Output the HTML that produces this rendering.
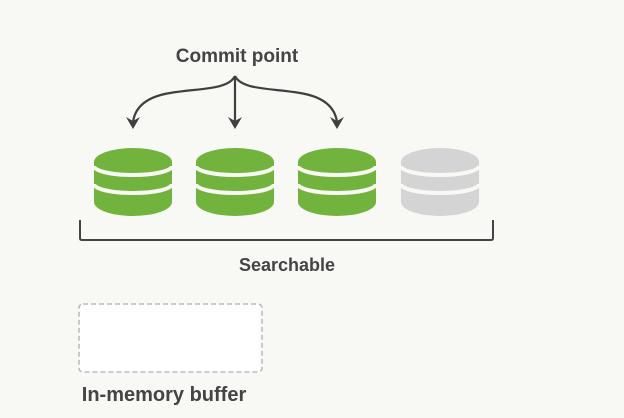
<!DOCTYPE html>
<html><head><style>
html,body{margin:0;padding:0;background:#f8f9f5;}
svg{display:block}
text{font-family:"Liberation Sans",sans-serif;font-weight:bold;fill:#444;}
</style></head><body>
<svg width="624" height="418" viewBox="0 0 624 418">
<rect width="624" height="418" fill="#f8f9f5"/>
<text x="237" y="62" font-size="19" text-anchor="middle">Commit point</text>
<g stroke="#3f3f3f" stroke-width="2.2" fill="none">
<path d="M235,76 C228,90 200,88 170,93 C145,97 135,108 133,122"/>
<path d="M235,76 L235,122"/>
<path d="M235,76 C242,90 270,88 300,93 C325,97 335,108 337,122"/>
</g>
<g fill="#3f3f3f">
<path d="M126,117 L133,129 L140,117 L133,121 Z"/>
<path d="M228,117 L235,129 L242,117 L235,121 Z"/>
<path d="M330,117 L337,129 L344,117 L337,121 Z"/>
</g>
<defs>
<g id="cyl">
<ellipse cx="0" cy="162" rx="39" ry="14"/>
<rect x="-39" y="162" width="78" height="40"/>
<ellipse cx="0" cy="202" rx="39" ry="14"/>
</g>
<g id="bands" fill="none" stroke="#f8f9f5" stroke-width="4">
<path d="M-39,166 A39,9 0 0 0 39,166"/>
<path d="M-39,184 A39,9 0 0 0 39,184"/>
</g>
</defs>
<g fill="#72b33d">
<use href="#cyl" x="133"/><use href="#bands" x="133"/>
<use href="#cyl" x="235"/><use href="#bands" x="235"/>
<use href="#cyl" x="337"/><use href="#bands" x="337"/>
</g>
<g fill="#d4d4d4"><use href="#cyl" x="440"/><use href="#bands" x="440"/></g>
<path d="M80,220 L80,238 Q80,240 82,240 L491,240 Q493,240 493,238 L493,220" stroke="#444" stroke-width="2" fill="none"/>
<text x="287" y="271" font-size="18" text-anchor="middle">Searchable</text>
<rect x="79" y="304" width="183" height="68" rx="4" fill="#fff" stroke="#bbb" stroke-width="1.6" stroke-dasharray="5,3"/>
<text x="164" y="401" font-size="20" text-anchor="middle">In-memory buffer</text>
</svg>
</body></html>
